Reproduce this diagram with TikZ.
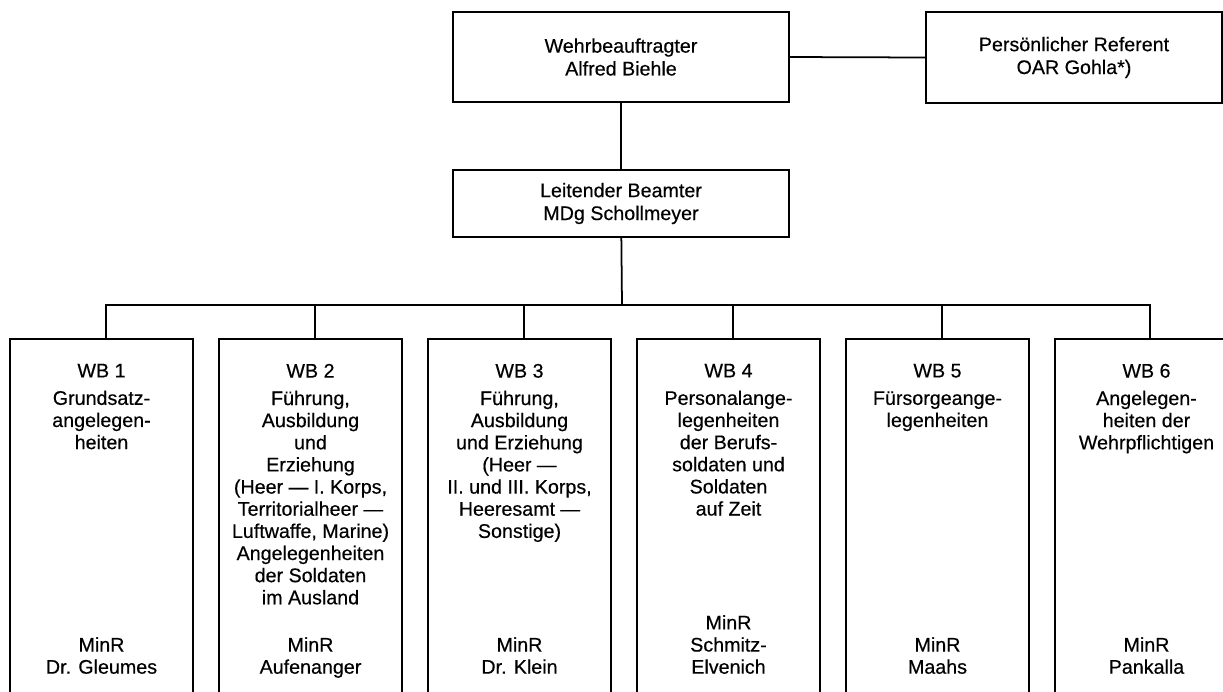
\documentclass[tikz,border=0pt]{standalone}
\usepackage{fontspec}
\setmainfont[FakeBold=0.4]{Liberation Sans}
\usetikzlibrary{positioning}

\begin{document}
\begin{tikzpicture}[x=0.02cm, y=-0.02cm, line width=1pt,
    font=\fontsize{11.2}{12.6}\selectfont,
    headbox/.style={draw, rectangle, align=center, inner sep=0pt,
      minimum height=1.8cm, font=\fontsize{11.2}{13}\selectfont},
    wbbox/.style={draw, rectangle, anchor=north, inner sep=0pt,
      minimum width=3.66cm, minimum height=7.24cm},
    desc/.style={align=center, inner sep=0pt},
    tie/.style={line width=1pt}]
      \useasboundingbox (0,0) rectangle (1223,691);
      \clip (0,0) rectangle (1223,691);

      % top level
      \node[headbox, minimum width=6.72cm] (wb) at (621,57)
        {Wehrbeauftragter\\Alfred Biehle};
      \node[headbox, minimum width=5.92cm, minimum height=1.82cm] (ref) at (1074,57.5)
        {Persönlicher Referent\\OAR Gohla*)};
      \node[headbox, minimum width=6.72cm, minimum height=1.34cm] (lb) at (621,203.5)
        {Leitender Beamter\\MDg Schollmeyer};
      \coordinate (bus) at (622,305);

      % departments (boxes run off the bottom of the page)
      \node[wbbox] (w1) at (101.5,338) {};
      \node[wbbox] (w2) at (310.5,338) {};
      \node[wbbox] (w3) at (519.5,338) {};
      \node[wbbox] (w4) at (728.5,338) {};
      \node[wbbox] (w5) at (937.5,338) {};
      \node[wbbox] (w6) at (1146.5,338) {};

      \node[desc, below=0.5cm of w1.north] (t1)
        {WB 1\\[3pt]Grundsatz-\\angelegen-\\heiten};
      \node[desc, below=0.5cm of w2.north] (t2)
        {WB 2\\[3pt]Führung,\\Ausbildung\\und\\Erziehung\\(Heer --- I. Korps,\\Territorialheer ---\\Luftwaffe, Marine)\\Angelegenheiten\\der Soldaten\\im Ausland};
      \node[desc, below=0.5cm of w3.north] (t3)
        {WB 3\\[3pt]Führung,\\Ausbildung\\und Erziehung\\(Heer ---\\II. und III. Korps,\\Heeresamt ---\\Sonstige)};
      \node[desc, below=0.5cm of w4.north] (t4)
        {WB 4\\[3pt]Personalange-\\legenheiten\\der Berufs-\\soldaten und\\Soldaten\\auf Zeit};
      \node[desc, below=0.5cm of w5.north] (t5)
        {WB 5\\[3pt]Fürsorgeange-\\legenheiten};
      \node[desc, below=0.5cm of w6.north] (t6)
        {WB 6\\[3pt]Angelegen-\\heiten der\\Wehrpflichtigen};

      \node[desc, above=0.41cm of w1.south] (n1) {MinR\\Dr. Gleumes\strut};
      \node[desc, above=0.41cm of w2.south] (n2) {MinR\\Aufenanger\strut};
      \node[desc, above=0.41cm of w3.south] (n3) {MinR\\Dr. Klein\strut};
      \node[desc, above=0.41cm of w4.south] (n4) {MinR\\Schmitz-\\Elvenich\strut};
      \node[desc, above=0.41cm of w5.south] (n5) {MinR\\Maahs\strut};
      \node[desc, above=0.41cm of w6.south] (n6) {MinR\\Pankalla\strut};

      % connections
      \draw[tie] (wb.east) -- (ref.west);
      \draw[tie] (wb) -- (lb);
      \draw[tie] (lb) -- (bus);
      \draw[tie] ([xshift=0.09cm]w1.north) |- (bus) -| ([xshift=0.07cm]w6.north);
      \draw[tie] ([xshift=0.09cm]w2.north) -- ([xshift=0.09cm]w2.north |- bus);
      \draw[tie] ([xshift=0.09cm]w3.north) -- ([xshift=0.09cm]w3.north |- bus);
      \draw[tie] ([xshift=0.09cm]w4.north) -- ([xshift=0.09cm]w4.north |- bus);
      \draw[tie] ([xshift=0.09cm]w5.north) -- ([xshift=0.09cm]w5.north |- bus);
    \end{tikzpicture}
\end{document}
